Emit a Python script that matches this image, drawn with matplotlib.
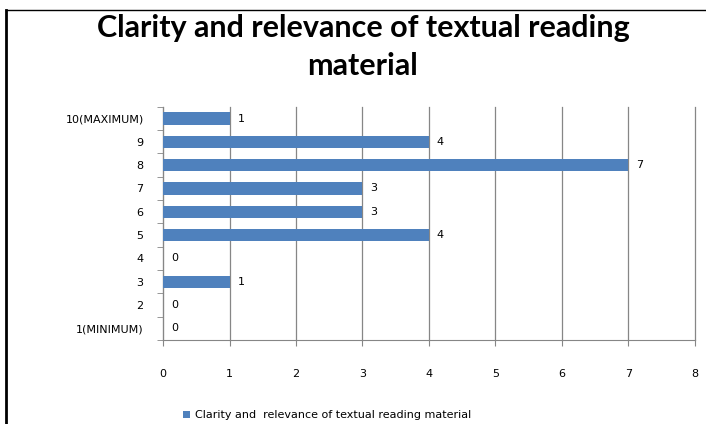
import matplotlib.pyplot as plt
import numpy as np

categories = ['1(MINIMUM)', '2', '3', '4', '5', '6', '7', '8', '9', '10(MAXIMUM)']
counts = [0, 0, 1, 0, 4, 3, 3, 7, 4, 1]
series_name = 'Clarity and  relevance of textual reading material'
title = 'Clarity and relevance of textual reading\nmaterial'

bar_color = '#4F81BD'

fig = plt.figure(figsize=(7.06, 4.24), dpi=100)
ax = fig.add_axes([0.231, 0.198, 0.753, 0.55])

y = np.arange(len(categories))
bars = ax.barh(y, counts, height=0.52, color=bar_color, zorder=3, label=series_name)

for yi, v in zip(y, counts):
    ax.text(v + 0.12, yi, str(v), va='center', ha='left', fontsize=8, color='black')

ax.set_xlim(0, 8)
ax.set_ylim(-0.5, len(categories) - 0.5)
ax.set_xticks(range(0, 9))
ax.tick_params(axis='x', length=4, color='#868686', labelsize=8, pad=17)
ax.grid(axis='x', color='#868686', linewidth=0.9, zorder=0)
for gl in ax.get_xgridlines():
    gl.set_clip_on(False)

ax.set_yticks(y)
ax.set_yticklabels(categories, fontsize=8)
ax.tick_params(axis='y', which='major', length=0, pad=14)
ax.set_yticks(np.arange(-0.5, len(categories)), minor=True)
ax.tick_params(axis='y', which='minor', length=4, color='#868686')

for s in ['top', 'right']:
    ax.spines[s].set_visible(False)
for s in ['left', 'bottom']:
    ax.spines[s].set_color('#868686')

fig.text(0.514, 0.968, title, ha='center', va='top', fontsize=22,
         fontweight='bold', family='Lato', linespacing=1.45)

leg = fig.legend(handles=[bars], labels=[series_name], loc='lower left',
                 bbox_to_anchor=(0.245, -0.015), frameon=False, fontsize=8,
                 handlelength=0.6, handleheight=0.6, handletextpad=0.5)

# table cell border lines from the source document
fig.add_artist(plt.Line2D([0.009, 0.009], [0, 0.976], color='black', lw=2))
fig.add_artist(plt.Line2D([0.009, 1.0], [0.976, 0.976], color='black', lw=1))

fig.savefig('out.png', dpi=100)
